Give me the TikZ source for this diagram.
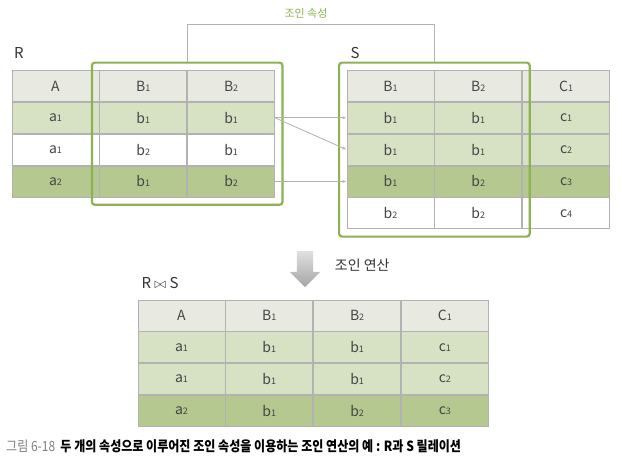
\documentclass[tikz,border=0pt]{standalone}
\usepackage{fontspec}
\setmainfont{Noto Sans CJK KR}
\usetikzlibrary{positioning,arrows.meta,fit,shapes.arrows}

\definecolor{headgray}{RGB}{232,234,226}
\definecolor{lightgreen}{RGB}{215,225,196}
\definecolor{darkgreen}{RGB}{180,200,143}
\definecolor{framegreen}{RGB}{140,178,82}
\definecolor{linegray}{RGB}{178,178,178}
\definecolor{textgray}{RGB}{70,70,70}

\newcommand{\ix}[1]{{\fontsize{9}{9}\selectfont #1}}

\tikzstyle{cell}      = [rectangle, minimum width=87pt, minimum height=31pt, inner sep=0pt, draw=linegray, line width=0.8pt, text=textgray, font=\fontsize{14}{16}\selectfont]
\tikzstyle{headcell}  = [cell, fill=headgray]
\tikzstyle{lightcell} = [cell, fill=lightgreen]
\tikzstyle{darkcell}  = [cell, fill=darkgreen]
\tikzstyle{whitecell} = [cell, fill=white]
\tikzstyle{keyframe}  = [rectangle, rounded corners=3pt, draw=framegreen, line width=2.2pt, inner sep=7.5pt]
\tikzstyle{link}      = [draw=linegray, line width=0.8pt]
\tikzstyle{tablename} = [text=black!80, font=\fontsize{15}{17}\selectfont]

\begin{document}
\begin{tikzpicture}[x=1pt, y=-1pt]
        \useasboundingbox (0,0) rectangle (622,464);
        % relation R
        \node (rname)   [tablename]                       at (19,53)   {R};
        \node (rh1)     [headcell]                        at (55.5,86) {A};
        \node (rh2)     [headcell, right=0pt of rh1]      {B\ix1};
        \node (rh3)     [headcell, right=0pt of rh2]      {B\ix2};
        \node (r11)     [lightcell, below=0pt of rh1]     {a\ix1};
        \node (r12)     [lightcell, right=0pt of r11]     {b\ix1};
        \node (r13)     [lightcell, right=0pt of r12]     {b\ix1};
        \node (r21)     [whitecell, below=0pt of r11]     {a\ix1};
        \node (r22)     [whitecell, right=0pt of r21]     {b\ix2};
        \node (r23)     [whitecell, right=0pt of r22]     {b\ix1};
        \node (r31)     [darkcell, below=0pt of r21]      {a\ix2};
        \node (r32)     [darkcell, right=0pt of r31]      {b\ix1};
        \node (r33)     [darkcell, right=0pt of r32]      {b\ix2};
        \node (rkey)    [keyframe, fit=(rh2)(r33)]        {};
        % relation S
        \node (sname)   [tablename]                       at (355,53)  {S};
        \node (sh1)     [headcell]                        at (390.5,86) {B\ix1};
        \node (sh2)     [headcell, right=0pt of sh1]      {B\ix2};
        \node (sh3)     [headcell, right=0pt of sh2]      {C\ix1};
        \node (s11)     [lightcell, below=0pt of sh1]     {b\ix1};
        \node (s12)     [lightcell, right=0pt of s11]     {b\ix1};
        \node (s13)     [lightcell, right=0pt of s12]     {c\ix1};
        \node (s21)     [lightcell, below=0pt of s11]     {b\ix1};
        \node (s22)     [lightcell, right=0pt of s21]     {b\ix1};
        \node (s23)     [lightcell, right=0pt of s22]     {c\ix2};
        \node (s31)     [darkcell, below=0pt of s21]      {b\ix1};
        \node (s32)     [darkcell, right=0pt of s31]      {b\ix2};
        \node (s33)     [darkcell, right=0pt of s32]      {c\ix3};
        \node (s41)     [whitecell, below=0pt of s31]     {b\ix2};
        \node (s42)     [whitecell, right=0pt of s41]     {b\ix2};
        \node (s43)     [whitecell, right=0pt of s42]     {c\ix4};
        \node (skey)    [keyframe, fit=(sh1)(s42)]        {};
        % join attributes
        \node (keylabel)[text=framegreen, font=\fontsize{11}{13}\selectfont] at (306,13) {조인 속성};
        \draw[link] (rkey.north) -- ++(0,-37) -| (skey.north);
        \draw[link, -{Latex[length=4pt, width=3pt]}] (r13.east) -- (s11.west);
        \draw[link, -{Latex[length=4pt, width=3pt]}] (r13.east) -- (s21.west);
        \draw[link, -{Latex[length=4pt, width=3pt]}] (r33.east) -- (s31.west);
        % join operation
        \node (joinarrow) [single arrow, shape border rotate=270, inner sep=8pt, minimum height=36pt, single arrow head extend=7pt, top color=gray!25, bottom color=gray!70, draw=none] at (305,265) {};
        \node (joinop)  [right=18pt of joinarrow, text=black!80, font=\fontsize{14}{16}\selectfont] {조인 연산};
        \node (tname)   [tablename]                       at (160,283) {R $\bowtie$ S};
        % result R join S
        \node (th1)     [headcell]                        at (181.5,315.5) {A};
        \node (th2)     [headcell, right=0pt of th1]      {B\ix1};
        \node (th3)     [headcell, right=0pt of th2]      {B\ix2};
        \node (th4)     [headcell, right=0pt of th3]      {C\ix1};
        \node (t11)     [lightcell, below=0pt of th1]     {a\ix1};
        \node (t12)     [lightcell, right=0pt of t11]     {b\ix1};
        \node (t13)     [lightcell, right=0pt of t12]     {b\ix1};
        \node (t14)     [lightcell, right=0pt of t13]     {c\ix1};
        \node (t21)     [lightcell, below=0pt of t11]     {a\ix1};
        \node (t22)     [lightcell, right=0pt of t21]     {b\ix1};
        \node (t23)     [lightcell, right=0pt of t22]     {b\ix1};
        \node (t24)     [lightcell, right=0pt of t23]     {c\ix2};
        \node (t31)     [darkcell, below=0pt of t21]      {a\ix2};
        \node (t32)     [darkcell, right=0pt of t31]      {b\ix1};
        \node (t33)     [darkcell, right=0pt of t32]      {b\ix2};
        \node (t34)     [darkcell, right=0pt of t33]      {c\ix3};
        % caption
        \node (caption) [anchor=west, inner sep=0pt, font=\fontsize{14}{16}\selectfont] at (6,446)
            {\scalebox{0.86}[1]{\textcolor{gray}{그림 6-18}\hspace{6pt}\textbf{두 개의 속성으로 이루어진 조인 속성을 이용하는 조인 연산의 예 : R과 S 릴레이션}}};
    \end{tikzpicture}
\end{document}
